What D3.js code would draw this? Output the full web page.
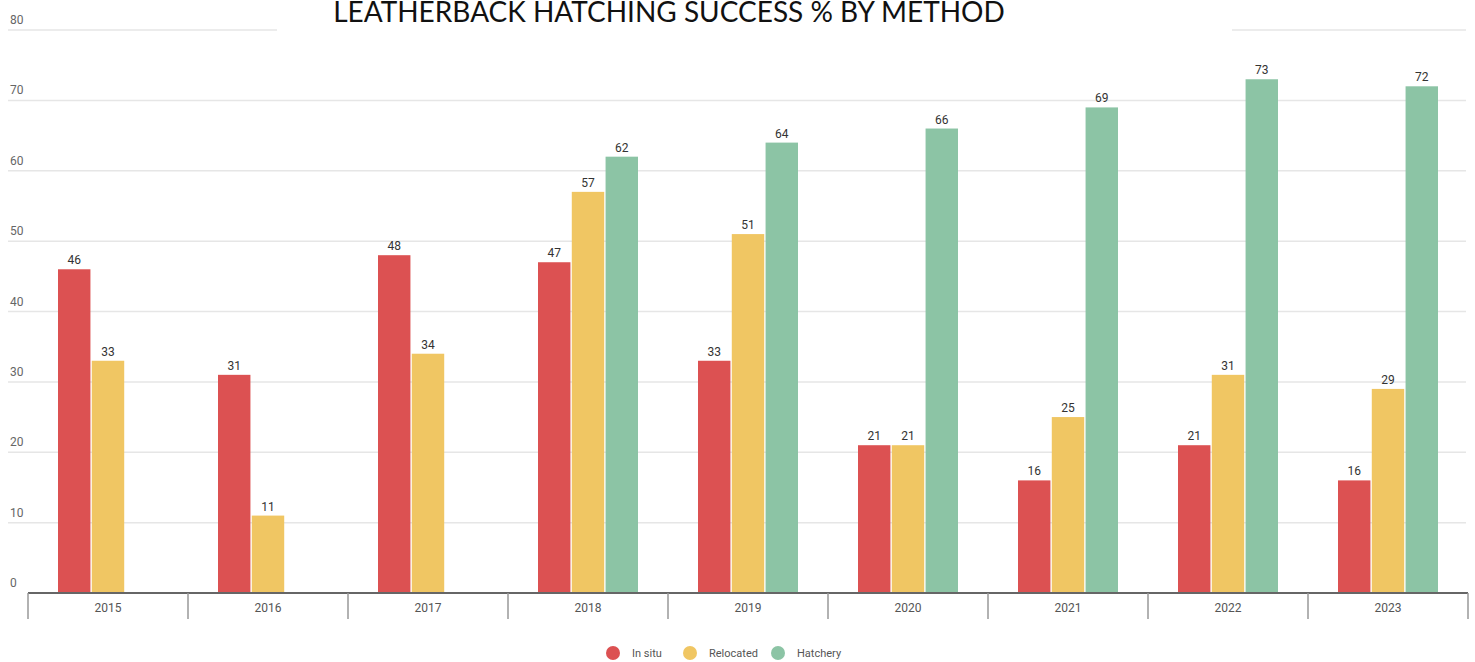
<!DOCTYPE html>
<html>
<head>
<meta charset="utf-8">
<script src="https://cdn.jsdelivr.net/npm/d3@7"></script>
<style>
  body { margin: 0; background: #fff; }
  text { font-family: Roboto, "Liberation Sans", sans-serif; }
</style>
</head>
<body>
<div id="chart"></div>
<script>
// chart data
const years = ["2015", "2016", "2017", "2018", "2019", "2020", "2021", "2022", "2023"];
const seriesNames = ["In situ", "Relocated", "Hatchery"];
const inSitu = [46, 31, 48, 47, 33, 21, 16, 21, 16];
const relocated = [33, 11, 34, 57, 51, 21, 25, 31, 29];
const hatchery = [null, null, null, 62, 64, 66, 69, 73, 72];
const yTicks = [0, 10, 20, 30, 40, 50, 60, 70, 80];
const colors = ["#dc5152", "#f0c663", "#8cc4a5"];

const width = 1475, height = 662;
const svg = d3.select("#chart").append("svg")
    .attr("width", width)
    .attr("height", height);

const x0 = d3.scaleBand().domain(years).range([28, 1468]).padding(0);
// bars sit in the middle part of each band
const x1 = d3.scaleBand().domain(seriesNames).range([30, 130]).paddingInner(0.04);
const y = d3.scaleLinear().domain([0, 80]).range([593, 30]);

// gridlines and y labels
const grid = svg.append("g");
grid.selectAll("line")
    .data(yTicks.filter(d => d > 0))
    .enter().append("line")
    .attr("x1", 8).attr("x2", 1466)
    .attr("y1", d => y(d)).attr("y2", d => y(d))
    .attr("stroke", "#e6e6e6")
    .attr("stroke-width", 1.5);
grid.selectAll("text")
    .data(yTicks)
    .enter().append("text")
    .attr("x", 10)
    .attr("y", d => y(d) - 6)
    .attr("font-size", 12)
    .attr("fill", "#666")
    .text(d => d);

// title box covers the top gridline
svg.append("rect")
    .attr("x", 277).attr("y", 0)
    .attr("width", 955).attr("height", 40)
    .attr("fill", "#fff");
svg.append("text")
    .attr("x", 669)
    .attr("y", 22)
    .attr("text-anchor", "middle")
    .attr("font-size", 28)
    .attr("fill", "#111")
    .style("font-family", "Lato, 'Open Sans', sans-serif")
    .text("LEATHERBACK HATCHING SUCCESS % BY METHOD");

// bars
const rows = years.map((yr, i) => ({
    year: yr,
    values: [inSitu[i], relocated[i], hatchery[i]]
        .map((v, j) => ({ key: seriesNames[j], value: v, color: colors[j] }))
        .filter(d => d.value != null)
}));

const groups = svg.selectAll(".year")
    .data(rows)
    .enter().append("g")
    .attr("transform", d => `translate(${x0(d.year)},0)`);

groups.selectAll("rect")
    .data(d => d.values)
    .enter().append("rect")
    .attr("x", d => x1(d.key))
    .attr("width", x1.bandwidth())
    .attr("y", d => y(d.value))
    .attr("height", d => y(0) - y(d.value))
    .attr("fill", d => d.color);

groups.selectAll("text")
    .data(d => d.values)
    .enter().append("text")
    .attr("x", d => x1(d.key) + x1.bandwidth() / 2)
    .attr("y", d => y(d.value) - 5)
    .attr("text-anchor", "middle")
    .attr("font-size", 12)
    .attr("fill", "#333")
    .text(d => d.value);

// x axis
const xAxis = svg.append("g");
xAxis.append("line")
    .attr("x1", 28).attr("x2", 1468)
    .attr("y1", y(0)).attr("y2", y(0))
    .attr("stroke", "#666")
    .attr("stroke-width", 2);
xAxis.selectAll(".tick")
    .data(years.concat(["end"]))
    .enter().append("line")
    .attr("x1", (d, i) => x0.range()[0] + i * x0.bandwidth())
    .attr("x2", (d, i) => x0.range()[0] + i * x0.bandwidth())
    .attr("y1", y(0)).attr("y2", y(0) + 26)
    .attr("stroke", "#999")
    .attr("stroke-width", 1.5);
xAxis.selectAll("text")
    .data(years)
    .enter().append("text")
    .attr("x", d => x0(d) + x0.bandwidth() / 2)
    .attr("y", y(0) + 19)
    .attr("text-anchor", "middle")
    .attr("font-size", 12)
    .attr("fill", "#555")
    .text(d => d);

// legend
const legendX = [613, 690, 778];
const legend = svg.selectAll(".legend")
    .data(seriesNames)
    .enter().append("g")
    .attr("transform", (d, i) => `translate(${legendX[i]},653)`);
legend.append("circle")
    .attr("r", 7)
    .attr("fill", (d, i) => colors[i]);
legend.append("text")
    .attr("x", 19)
    .attr("y", 4)
    .attr("font-size", 11)
    .attr("fill", "#555")
    .text(d => d);
</script>
</body>
</html>
